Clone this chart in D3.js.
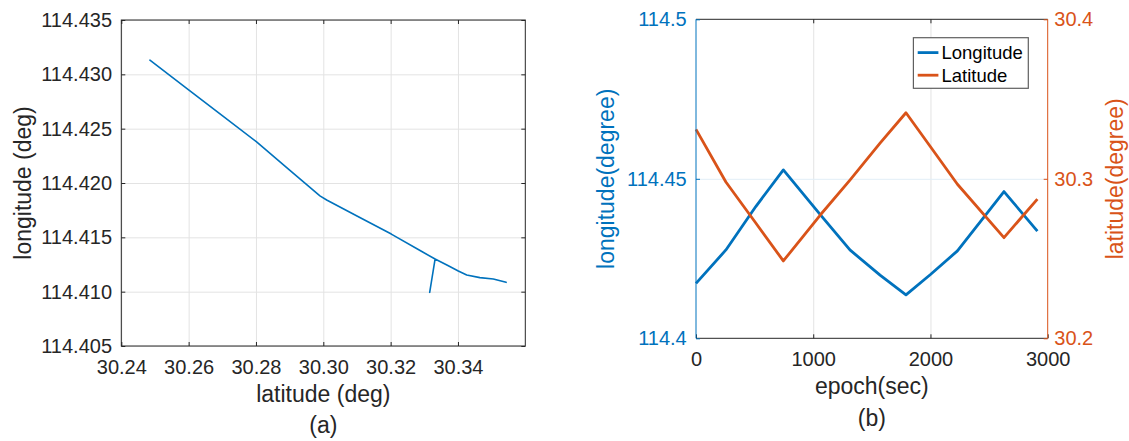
<!DOCTYPE html>
<html>
<head>
<meta charset="utf-8">
<script src="https://cdn.jsdelivr.net/npm/d3@7"></script>
<style>
  html, body { margin: 0; padding: 0; background: #fff; }
  svg { display: block; font-family: "Liberation Sans", Arial, Helvetica, sans-serif; }
</style>
</head>
<body>
<svg id="fig" width="1129" height="441"></svg>
<script>
// ---- (a) trajectory: latitude vs longitude ----
const trackLat = [30.2485, 30.2600, 30.2700, 30.2801, 30.2900, 30.2990, 30.3010, 30.3100,
                  30.3202, 30.3290, 30.3332, 30.3316, 30.3332, 30.3370, 30.3401, 30.3426,
                  30.3465, 30.3505, 30.3543];
const trackLon = [114.4313, 114.42857, 114.42620, 114.4238, 114.42119, 114.41882, 114.41844, 114.41697,
                  114.4153, 114.41374, 114.4130, 114.40994, 114.4130, 114.41240, 114.4119, 114.41153,
                  114.41129, 114.41117, 114.41086];
const latTicksA = [30.24, 30.26, 30.28, 30.30, 30.32, 30.34];
const lonTicksA = [114.405, 114.410, 114.415, 114.420, 114.425, 114.430, 114.435];

// ---- (b) longitude / latitude against epoch ----
const epoch     = [0, 255, 510, 745, 1060, 1313, 1570, 1791, 2000, 2230, 2627, 2912];
const lonSeries = [114.4172, 114.4277, 114.4413, 114.4528, 114.4388, 114.4277, 114.4198, 114.4136,
                   114.4200, 114.4274, 114.4460, 114.4336];
const latSeries = [30.3310, 30.2980, 30.2723, 30.2485, 30.2773, 30.2992, 30.3223, 30.3414,
                   30.3201, 30.2966, 30.2631, 30.2873];
const epochTicks = [0, 1000, 2000, 3000];
const lonTicksB  = [114.4, 114.45, 114.5];
const latTicksB  = [30.2, 30.3, 30.4];
const seriesNames = ["Longitude", "Latitude"];

const BLUE = "#0072BD", ORANGE = "#D95319", INK = "#262626", GRID = "#e3e3e3";
const TICK_FONT = 20, LABEL_FONT = 23, LEGEND_FONT = 18.5, TICK_LEN = 4;

const svg = d3.select("#fig");
svg.append("rect").attr("width", 1129).attr("height", 441).attr("fill", "#fff");

function styleAxis(g, color, fontSize) {
  g.select(".domain").remove();
  g.selectAll(".tick line").attr("stroke", color).attr("stroke-width", 1);
  g.selectAll(".tick text").attr("fill", color).attr("font-size", fontSize)
    .attr("font-family", "Liberation Sans, Arial, sans-serif");
}

// ================= panel (a) =================
{
  const L = 121.3, T = 20, W = 404, H = 326;
  const g = svg.append("g").attr("transform", `translate(${L},${T})`);
  const x = d3.scaleLinear().domain([30.24, 30.36]).range([0, W]);
  const y = d3.scaleLinear().domain([114.405, 114.435]).range([H, 0]);

  // grid
  g.append("g").attr("transform", `translate(0,${H})`)
    .call(d3.axisBottom(x).tickValues(latTicksA).tickSize(-H).tickFormat(""))
    .call(s => { s.select(".domain").remove(); s.selectAll("line").attr("stroke", GRID); });
  g.append("g")
    .call(d3.axisLeft(y).tickValues(lonTicksA).tickSize(-W).tickFormat(""))
    .call(s => { s.select(".domain").remove(); s.selectAll("line").attr("stroke", GRID); });

  // trajectory
  const line = d3.line().x((d, i) => x(trackLat[i])).y((d, i) => y(trackLon[i]));
  g.append("path").datum(trackLat).attr("d", line)
    .attr("fill", "none").attr("stroke", BLUE).attr("stroke-width", 1.6)
    .attr("stroke-linejoin", "round").attr("stroke-linecap", "round");

  // axes with inward ticks
  g.append("g").attr("transform", `translate(0,${H})`)
    .call(d3.axisBottom(x).tickValues(latTicksA).tickFormat(d3.format(".2f"))
      .tickSizeInner(-TICK_LEN).tickSizeOuter(0).tickPadding(13.8))
    .call(s => styleAxis(s, INK, TICK_FONT));
  g.append("g")
    .call(d3.axisTop(x).tickValues(latTicksA).tickFormat("").tickSizeInner(-TICK_LEN).tickSizeOuter(0))
    .call(s => styleAxis(s, INK, TICK_FONT));
  g.append("g")
    .call(d3.axisLeft(y).tickValues(lonTicksA).tickFormat(d3.format(".3f"))
      .tickSizeInner(-TICK_LEN).tickSizeOuter(0).tickPadding(9.3))
    .call(s => styleAxis(s, INK, TICK_FONT));
  g.append("g").attr("transform", `translate(${W},0)`)
    .call(d3.axisRight(y).tickValues(lonTicksA).tickFormat("").tickSizeInner(-TICK_LEN).tickSizeOuter(0))
    .call(s => styleAxis(s, INK, TICK_FONT));

  g.append("rect").attr("width", W).attr("height", H)
    .attr("fill", "none").attr("stroke", INK).attr("stroke-width", 1);

  svg.append("text").attr("x", L + W / 2).attr("y", 402).attr("text-anchor", "middle")
    .attr("font-size", LABEL_FONT).attr("fill", INK).text("latitude (deg)");
  svg.append("text").attr("transform", `translate(31,${T + H / 2}) rotate(-90)`)
    .attr("text-anchor", "middle").attr("font-size", LABEL_FONT).attr("fill", INK)
    .text("longitude (deg)");
  svg.append("text").attr("x", L + W / 2).attr("y", 433).attr("text-anchor", "middle")
    .attr("font-size", LABEL_FONT).attr("fill", INK).text("(a)");
}

// ================= panel (b) =================
{
  const L = 696, T = 19.3, W = 351.7, H = 319;
  const g = svg.append("g").attr("transform", `translate(${L},${T})`);
  const x = d3.scaleLinear().domain([0, 3000]).range([0, W]);
  const yL = d3.scaleLinear().domain([114.4, 114.5]).range([H, 0]);
  const yR = d3.scaleLinear().domain([30.2, 30.4]).range([H, 0]);

  // grid
  g.append("g").attr("transform", `translate(0,${H})`)
    .call(d3.axisBottom(x).tickValues(epochTicks.slice(1, -1)).tickSize(-H).tickFormat(""))
    .call(s => { s.select(".domain").remove(); s.selectAll("line").attr("stroke", GRID); });
  g.append("g")
    .call(d3.axisLeft(yL).tickValues(lonTicksB.slice(1, -1)).tickSize(-W).tickFormat(""))
    .call(s => { s.select(".domain").remove(); s.selectAll("line").attr("stroke", "#e2eef7"); });

  // series
  const lonLine = d3.line().x((d, i) => x(epoch[i])).y((d, i) => yL(lonSeries[i]));
  const latLine = d3.line().x((d, i) => x(epoch[i])).y((d, i) => yR(latSeries[i]));
  g.append("path").datum(epoch).attr("d", lonLine)
    .attr("fill", "none").attr("stroke", BLUE).attr("stroke-width", 2.8).attr("stroke-linejoin", "round");
  g.append("path").datum(epoch).attr("d", latLine)
    .attr("fill", "none").attr("stroke", ORANGE).attr("stroke-width", 2.8).attr("stroke-linejoin", "round");

  // box: top and bottom in ink, sides in series colours
  g.append("line").attr("x1", 0).attr("x2", W).attr("y1", 0).attr("y2", 0).attr("stroke", INK);
  g.append("line").attr("x1", 0).attr("x2", W).attr("y1", H).attr("y2", H).attr("stroke", INK);

  g.append("g").attr("transform", `translate(0,${H})`)
    .call(d3.axisBottom(x).tickValues(epochTicks).tickFormat(d3.format("d"))
      .tickSizeInner(-TICK_LEN).tickSizeOuter(0).tickPadding(13.8))
    .call(s => styleAxis(s, INK, TICK_FONT));
  g.append("g")
    .call(d3.axisTop(x).tickValues(epochTicks.slice(1, -1)).tickFormat("").tickSizeInner(-TICK_LEN).tickSizeOuter(0))
    .call(s => styleAxis(s, INK, TICK_FONT));
  g.append("g")
    .call(d3.axisLeft(yL).tickValues(lonTicksB).tickFormat(d => String(d))
      .tickSizeInner(-TICK_LEN).tickSizeOuter(0).tickPadding(9.3))
    .call(s => styleAxis(s, BLUE, TICK_FONT));
  g.append("g").attr("transform", `translate(${W},0)`)
    .call(d3.axisRight(yR).tickValues(latTicksB).tickFormat(d => d.toFixed(1))
      .tickSizeInner(-TICK_LEN).tickSizeOuter(0).tickPadding(6.6))
    .call(s => styleAxis(s, ORANGE, TICK_FONT));

  g.append("line").attr("x1", 0).attr("x2", 0).attr("y1", 0).attr("y2", H).attr("stroke", BLUE);
  g.append("line").attr("x1", W).attr("x2", W).attr("y1", 0).attr("y2", H).attr("stroke", ORANGE);

  // legend
  const lg = svg.append("g");
  lg.append("rect").attr("x", 913.4).attr("y", 37.7).attr("width", 114.9).attr("height", 50.6)
    .attr("fill", "#fff").attr("stroke", "#5f5f5f").attr("stroke-width", 1.2);
  const colors = [BLUE, ORANGE];
  seriesNames.forEach((name, i) => {
    const cy = 52.6 + i * 22.6;
    lg.append("line").attr("x1", 917.7).attr("x2", 938.4).attr("y1", cy).attr("y2", cy)
      .attr("stroke", colors[i]).attr("stroke-width", 2.8);
    lg.append("text").attr("x", 941.5).attr("y", cy + 6.6)
      .attr("font-size", LEGEND_FONT).attr("fill", "#000").text(name);
  });

  svg.append("text").attr("x", L + W / 2).attr("y", 394).attr("text-anchor", "middle")
    .attr("font-size", LABEL_FONT).attr("fill", INK).text("epoch(sec)");
  svg.append("text").attr("transform", `translate(614,${T + H / 2}) rotate(-90)`)
    .attr("text-anchor", "middle").attr("font-size", LABEL_FONT).attr("fill", BLUE)
    .text("longitude(degree)");
  svg.append("text").attr("transform", `translate(1123,${T + H / 2}) rotate(-90)`)
    .attr("text-anchor", "middle").attr("font-size", LABEL_FONT).attr("fill", ORANGE)
    .text("latitude(degree)");
  svg.append("text").attr("x", L + W / 2).attr("y", 426).attr("text-anchor", "middle")
    .attr("font-size", LABEL_FONT).attr("fill", INK).text("(b)");
}
</script>
</body>
</html>
